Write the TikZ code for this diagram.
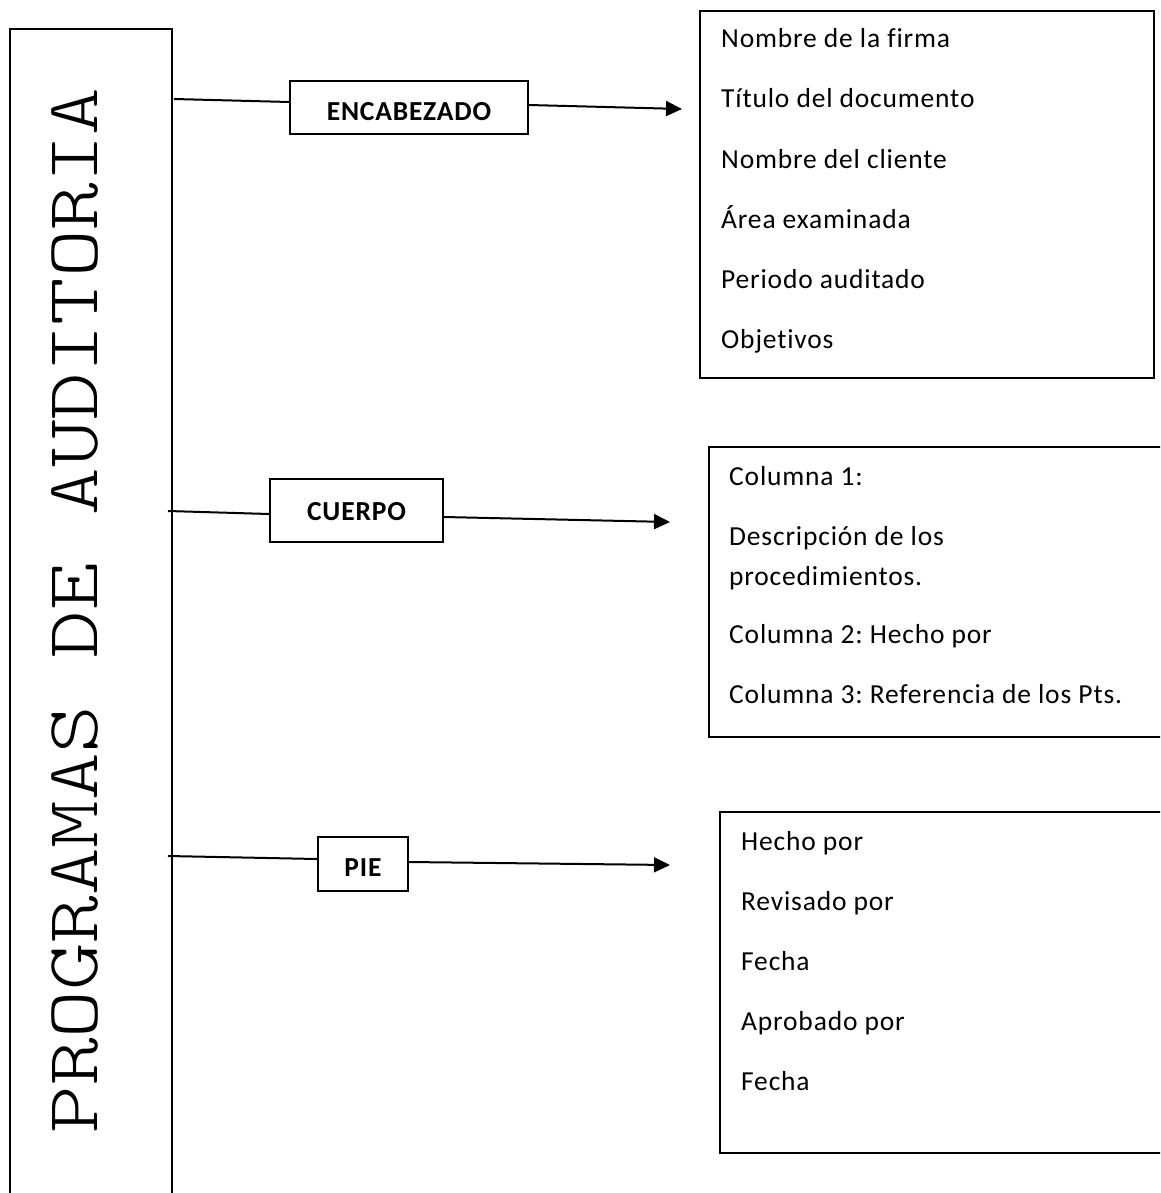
\documentclass[tikz,border=0pt]{standalone}
\usepackage{fontspec}
\setmainfont{Carlito}[Ligatures=CommonOff, LetterSpace=3]
\newfontfamily\typewriter{Latin Modern Mono Light}
\usetikzlibrary{arrows.meta}

\begin{document}
\frenchspacing
\begin{tikzpicture}[x=1pt,y=-1pt,
  frame/.style={draw, line width=1.7pt, inner sep=0pt, anchor=north west},
  secbox/.style={draw, line width=1.7pt, inner sep=0pt, text depth=0pt,
    font=\bfseries\fontsize{27.5}{32}\selectfont},
  item/.style={anchor=base west, inner sep=0pt,
    font=\fontsize{27.5}{32}\selectfont},
  link/.style={line width=2pt},
  arrowlink/.style={link, -{Triangle[length=16pt,width=15pt]}}]

\useasboundingbox (0,0) rectangle (1160,1193);
\clip (0,0) rectangle (1160,1193);

% tall box on the left with its vertical title
\node (prog) [frame, line width=2pt, minimum width=162pt, minimum height=1200pt] at (9,28) {};
\node (progtitle) [rotate=90, xscale=1.23, anchor=base, inner sep=0pt,
  font=\typewriter\fontsize{73.6}{80}\selectfont] at (97,610.5) {PROGRAMAS DE AUDITORIA};

% section boxes
\node (enc) [secbox, minimum width=238pt, minimum height=53pt, text height=26.8pt] at (409,107.5) {ENCABEZADO};
\node (cue) [secbox, minimum width=173pt, minimum height=63pt, text height=20.8pt] at (356.5,510.5) {CUERPO};
\node (pie) [secbox, minimum width=90pt, minimum height=54pt, text height=25.8pt] at (363,864) {PIE};

% list boxes
\node (list1) [frame, minimum width=454pt, minimum height=367pt] at (699,10) {};
\node (list2) [frame, minimum width=480pt, minimum height=290pt] at (708,446) {};
\node (list3) [frame, minimum width=470pt, minimum height=341pt] at (719,811) {};

\node (a1) [item] at (721,48)  {Nombre de la firma};
\node (a2) [item] at (721,108) {Título del documento};
\node (a3) [item] at (721,168) {Nombre del cliente};
\node (a4) [item] at (721,228) {Área examinada};
\node (a5) [item] at (721,288) {Periodo auditado};
\node (a6) [item] at (721,348) {Objetivos};

\node (b1) [item] at (729,485) {Columna 1:};
\node (b2) [item] at (729,545) {Descripción de los};
\node (b3) [item] at (729,585) {procedimientos.};
\node (b4) [item] at (729,643) {Columna 2: Hecho por};
\node (b5) [item] at (729,703) {Columna 3: Referencia de los Pts.};

\node (c1) [item] at (741,850)  {Hecho por};
\node (c2) [item] at (741,910)  {Revisado por};
\node (c3) [item] at (741,970)  {Fecha};
\node (c4) [item] at (741,1030) {Aprobado por};
\node (c5) [item] at (741,1090) {Fecha};

% connector ends
\coordinate (s1) at (174,99);
\coordinate (s2) at (168,511);
\coordinate (s3) at (168,856);
\coordinate (t1) at (682,109);
\coordinate (t2) at (670,522);
\coordinate (t3) at (670,865);

\draw[link] (s1) -- ([yshift=5.5pt]enc.west);
\draw[arrowlink] ([yshift=2.5pt]enc.east) -- (t1);
\draw[link] (s2) -- ([yshift=-3.5pt]cue.west);
\draw[arrowlink] ([yshift=-6.5pt]cue.east) -- (t2);
\draw[link] (s3) -- ([yshift=5pt]pie.west);
\draw[arrowlink] ([yshift=2pt]pie.east) -- (t3);
\end{tikzpicture}
\end{document}
